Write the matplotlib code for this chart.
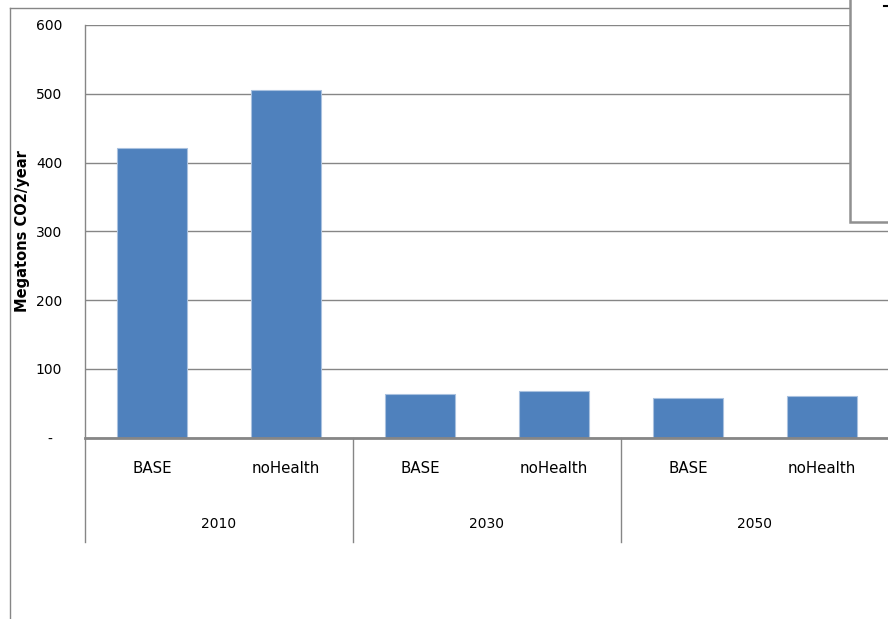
import matplotlib
matplotlib.use("Agg")
import matplotlib.pyplot as plt
from matplotlib.patches import Rectangle
from matplotlib.lines import Line2D
from matplotlib.transforms import blended_transform_factory

# Emissions by year and scenario
years = ["2010", "2030", "2050"]
scenarios = ["BASE", "noHealth"]
values = [421, 505, 64, 68, 58, 60]  # Megatons CO2/year, ordered year-by-year, scenario within year

y_ticks = [0, 100, 200, 300, 400, 500, 600]
y_tick_labels = ["-  ", "100", "200", "300", "400", "500", "600"]

W, H = 888, 619
fig = plt.figure(figsize=(W / 100, H / 100), dpi=100)
fig.patch.set_facecolor("white")

def fx(px):
    return px / W

def fy(py):
    return 1 - py / H

GRAY = "#868686"
BLUE = "#4F81BD"

# plot area: left edge x=85, zero line y=437, top gridline y=25
ax_left, ax_right, ax_top, ax_bottom = 85, 889, 25, 437.5
ax = fig.add_axes([fx(ax_left), fy(ax_bottom), (ax_right - ax_left) / W, (ax_bottom - ax_top) / H])

n = len(values)
positions = list(range(n))
ax.bar(positions, values, width=0.52, color=BLUE, edgecolor="#a9c1df", linewidth=0.8, zorder=3)
ax.set_xlim(-0.5, n - 0.5)
ax.set_ylim(0, 600)

ax.set_yticks(y_ticks)
ax.set_yticklabels(y_tick_labels, fontsize=10, family="DejaVu Sans")
ax.tick_params(axis="y", length=0, pad=16.5)
ax.set_xticks([])
ax.yaxis.grid(True, color=GRAY, linewidth=1.0, zorder=0)
ax.set_axisbelow(True)

for s in ["top", "right"]:
    ax.spines[s].set_visible(False)
ax.spines["left"].set_color(GRAY)
ax.spines["left"].set_linewidth(1.0)
ax.spines["bottom"].set_color(GRAY)
ax.spines["bottom"].set_linewidth(2.0)
ax.spines["bottom"].set_zorder(4)

ax.set_ylabel("Megatons CO2/year", fontsize=10.5, fontweight="bold", family="DejaVu Sans")
ax.yaxis.set_label_coords(-0.069, 0.5)

# two-level category axis
trans = blended_transform_factory(ax.transData, ax.transAxes)
hpx = ax_bottom - ax_top
for i, v in enumerate(values):
    ax.text(i, -31 / hpx, scenarios[i % 2], transform=trans, ha="center", va="center",
            fontsize=10.8, family="DejaVu Sans", color="#000000")
for g, yr in enumerate(years):
    ax.text(2 * g + 0.5, -86 / hpx, yr, transform=trans, ha="center", va="center",
            fontsize=10, family="DejaVu Sans", color="#000000")
for g in range(len(years) + 1):
    xb = 2 * g - 0.5
    ax.add_line(Line2D([xb, xb], [0, -104 / hpx], transform=trans, color=GRAY,
                       linewidth=1.0, clip_on=False))

# chart area frame
fig.add_artist(Line2D([fx(9.5), fx(9.5)], [fy(7.5), 0], color=GRAY, linewidth=1.0))
fig.add_artist(Line2D([fx(9.5), 1.0], [fy(7.5), fy(7.5)], color=GRAY, linewidth=1.0))

# legend box in the upper right corner
leg = Rectangle((fx(850), fy(222)), 1.0, 1.0, transform=fig.transFigure,
                facecolor="white", edgecolor="#909090", linewidth=1.8, zorder=10)
fig.add_artist(leg)
fig.add_artist(Line2D([fx(884), fx(888)], [fy(6), fy(6)], color="black", linewidth=1.5, zorder=11))

fig.savefig("out.png", dpi=100)
